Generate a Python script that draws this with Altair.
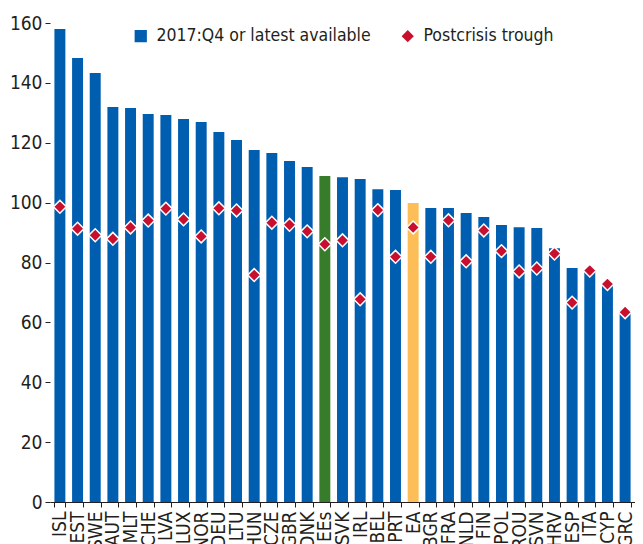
import altair as alt
import pandas as pd

countries = ["ISL", "EST", "SWE", "AUT", "MLT", "CHE", "LVA", "LUX", "NOR", "DEU", "LTU",
             "HUN", "CZE", "GBR", "DNK", "EEs", "SVK", "IRL", "BEL", "PRT", "EA", "BGR",
             "FRA", "NLD", "FIN", "POL", "ROU", "SVN", "HRV", "ESP", "ITA", "CYP", "GRC"]
latest = [158.0, 148.3, 143.3, 131.9, 131.6, 129.6, 129.3, 127.9, 126.9, 123.6, 120.9,
          117.6, 116.6, 113.9, 111.9, 108.9, 108.5, 107.9, 104.5, 104.2, 99.9, 98.2,
          98.2, 96.5, 95.2, 92.5, 91.8, 91.5, 84.8, 78.2, 76.9, 72.3, 64.1]
trough = [98.6, 91.3, 89.1, 87.9, 91.7, 94.0, 98.0, 94.4, 88.7, 98.1, 97.4,
          75.8, 93.3, 92.6, 90.4, 86.1, 87.4, 67.7, 97.5, 81.9, 91.7, 81.9,
          94.1, 80.4, 90.7, 83.8, 77.0, 78.0, 83.0, 66.6, 77.3, 72.8, 63.4]
series_names = ["2017:Q4 or latest available", "Postcrisis trough"]
y_ticks = [0, 20, 40, 60, 80, 100, 120, 140, 160]

BLUE = "#005EB0"
RED = "#C8102E"
GREEN = "#367C2B"
ORANGE = "#FDBE57"
TEXT = "#231F20"
FONT = "DejaVu Sans Condensed, Liberation Sans Narrow, sans-serif"

df = pd.DataFrame({"country": countries, "latest": latest, "trough": trough})

x_enc = alt.X(
    "country:N", sort=countries, title=None,
    scale=alt.Scale(paddingInner=0.38, paddingOuter=0.25),
    axis=alt.Axis(labelAngle=270, labelFontSize=19, labelFont=FONT, labelColor=TEXT,
                  labelPadding=4, tickBand="extent", tickSize=5, tickColor=TEXT,
                  domainColor=TEXT, domainWidth=1, grid=False),
)
y_scale = alt.Scale(domain=[0, 160], nice=False)
legend = alt.Legend(title=None, orient="none", legendX=82, legendY=4, direction="horizontal",
                    labelFontSize=17.5, labelFont=FONT, labelColor=TEXT, labelLimit=0,
                    symbolSize=150, symbolStrokeWidth=0, labelOffset=7, columnPadding=28,
                    padding=0)

bars = alt.Chart(df).mark_bar().encode(
    x=x_enc,
    y=alt.Y("latest:Q", scale=y_scale, title=None,
            axis=alt.Axis(values=y_ticks, labelFontSize=19, labelFont=FONT, labelColor=TEXT,
                          labelPadding=3, tickSize=5, tickColor=TEXT, domain=False, grid=False)),
    color={"condition": [{"test": "datum.country === 'EEs'", "value": GREEN},
                         {"test": "datum.country === 'EA'", "value": ORANGE}],
           "value": BLUE},
)

points = alt.Chart(df).transform_calculate(series=f'"{series_names[1]}"').mark_point(
    filled=True, size=165, stroke="white", strokeWidth=1.5, opacity=1
).encode(
    x=x_enc,
    y=alt.Y("trough:Q", scale=y_scale),
    color=alt.Color("series:N", scale=alt.Scale(domain=series_names, range=[BLUE, RED]),
                    legend=legend),
    shape=alt.Shape("series:N", scale=alt.Scale(domain=series_names, range=["square", "diamond"]),
                    legend=legend),
)

chart = alt.layer(bars, points).properties(
    width=585, height=479,
    autosize=alt.AutoSizeParams(type="none"),
    padding={"left": 42, "top": 15, "right": 0, "bottom": 42},
).configure_view(stroke=None)

chart.save("out.html", embed_options={"renderer": "svg", "actions": False})
